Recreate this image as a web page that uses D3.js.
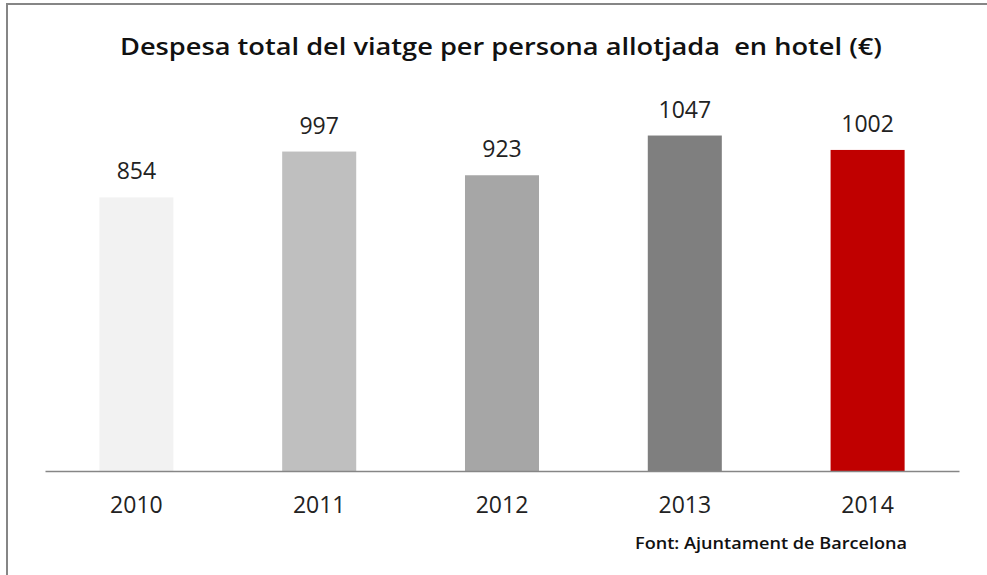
<!DOCTYPE html>
<html>
<head>
<meta charset="utf-8">
<script src="https://cdn.jsdelivr.net/npm/d3@7"></script>
<style>
  body { margin: 0; background: #fff; }
  svg { display: block; }
</style>
</head>
<body>
<svg id="chart"></svg>
<script>
// data
var years = ["2010", "2011", "2012", "2013", "2014"];
var values = [854, 997, 923, 1047, 1002];
var barColors = ["#f2f2f2", "#bfbfbf", "#a6a6a6", "#7f7f7f", "#c00000"];
var titleText = "Despesa total del viatge per persona allotjada  en hotel (€)";
var sourceText = "Font: Ajuntament de Barcelona";

// basic settings
var width = 987;
var height = 575;
var svg = d3.select("#chart")
            .attr("width", width)
            .attr("height", height);

// frame
svg.append("line")
   .attr("x1", 7).attr("x2", width).attr("y1", 4).attr("y2", 4)
   .attr("stroke", "#868686").attr("stroke-width", 2);
svg.append("line")
   .attr("x1", 7).attr("x2", 7).attr("y1", 3).attr("y2", height)
   .attr("stroke", "#868686").attr("stroke-width", 2);

var x = d3.scaleBand()
          .domain(years)
          .range([45, 959])
          .paddingInner(0.595)
          .paddingOuter(0.2975);

var y = d3.scaleLinear()
          .domain([0, 1200])
          .range([471, 86.5]);

var data = years.map(function(d, i) {
    return { year: d, value: values[i], color: barColors[i] };
});

// bars
svg.selectAll(".bar")
   .data(data)
   .enter().append("rect")
   .attr("class", "bar")
   .attr("x", function(d) { return x(d.year); })
   .attr("y", function(d) { return y(d.value); })
   .attr("width", x.bandwidth())
   .attr("height", function(d) { return y(0) - y(d.value); })
   .style("fill", function(d) { return d.color; });

// x axis
var xAxis = svg.append("g")
   .attr("transform", "translate(0," + y(0) + ")")
   .call(d3.axisBottom(x).tickSize(0).tickPadding(26));
xAxis.select(".domain").attr("stroke", "#868686").attr("stroke-width", 1.5);
xAxis.selectAll("text")
   .attr("font-family", "'Open Sans', sans-serif")
   .attr("font-size", 23)
   .attr("fill", "#222");

// value labels
svg.selectAll(".label")
   .data(data)
   .enter().append("text")
   .attr("class", "label")
   .attr("x", function(d) { return x(d.year) + x.bandwidth() / 2; })
   .attr("y", function(d) { return y(d.value) - 18; })
   .attr("text-anchor", "middle")
   .attr("font-family", "'Open Sans', sans-serif")
   .attr("font-size", 23)
   .attr("fill", "#222")
   .text(function(d) { return d.value; });

// title
svg.append("text")
   .attr("x", 501)
   .attr("y", 55)
   .attr("text-anchor", "middle")
   .attr("font-family", "'Open Sans', sans-serif")
   .attr("font-weight", 600)
   .attr("font-size", 24)
   .attr("fill", "#111")
   .attr("textLength", 762)
   .attr("lengthAdjust", "spacingAndGlyphs")
   .style("white-space", "pre")
   .text(titleText);

// source
svg.append("text")
   .attr("x", 907)
   .attr("y", 549)
   .attr("text-anchor", "end")
   .attr("font-family", "'Open Sans', sans-serif")
   .attr("font-weight", 600)
   .attr("font-size", 17)
   .attr("fill", "#111")
   .attr("textLength", 272)
   .attr("lengthAdjust", "spacingAndGlyphs")
   .text(sourceText);
</script>
</body>
</html>
